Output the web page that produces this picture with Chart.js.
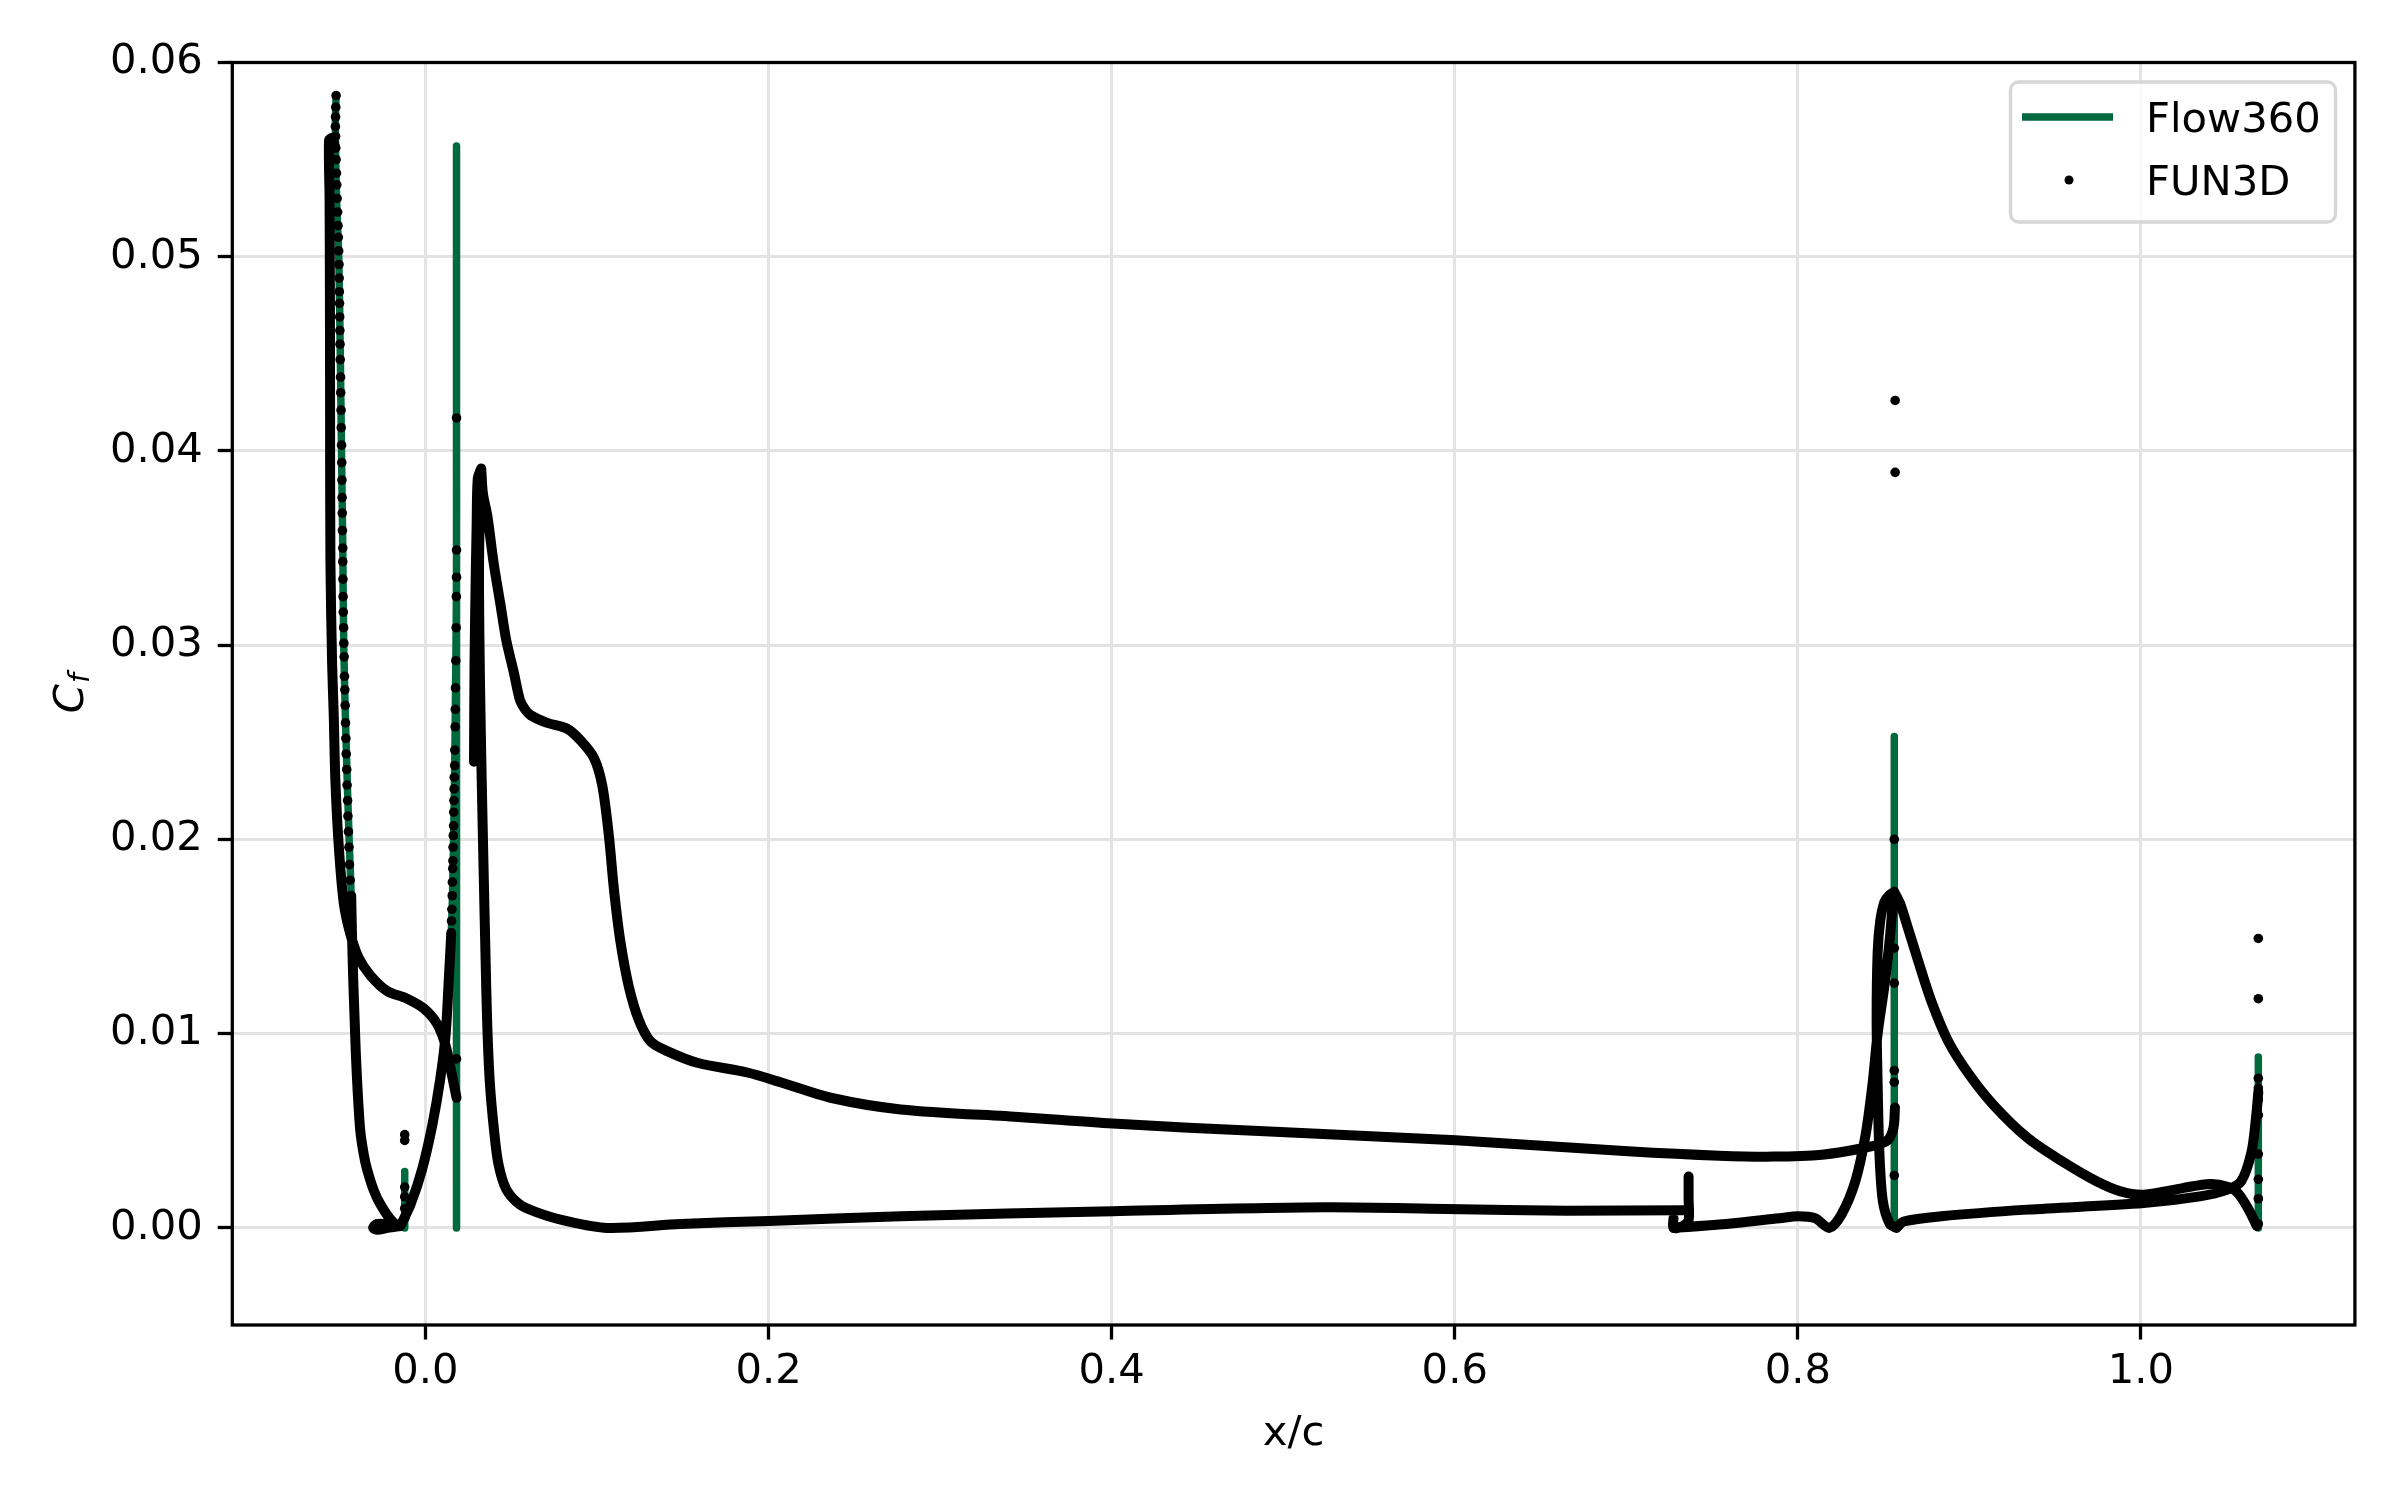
<!DOCTYPE html>
<html><head><meta charset="utf-8">
<script src="https://cdn.jsdelivr.net/npm/chart.js@4.4.1/dist/chart.umd.min.js"></script>
<style>html,body{margin:0;padding:0;background:#fff;}canvas{display:block;}</style>
</head><body>
<canvas id="c" width="2400" height="1500" style="width:2400px;height:1500px"></canvas>
<script>
// ---------- tick labels ----------
const xTickValues = [0.0, 0.2, 0.4, 0.6, 0.8, 1.0];
const yTickValues = [0.00, 0.01, 0.02, 0.03, 0.04, 0.05, 0.06];

// ---------- surface curves [x/c, Cf] (shared by both solvers) ----------
const slatUpper = [[-0.0526,0.0556],[-0.0545,0.0561],[-0.0562,0.0560],[-0.0559,0.0530],[-0.0557,0.0480],[-0.0556,0.0420],
  [-0.0554,0.0343],[-0.0544,0.0290],[-0.0535,0.0265],[-0.0525,0.0230],[-0.0505,0.0196],[-0.0476,0.0167],[-0.0437,0.0151],
  [-0.0389,0.0139],[-0.0321,0.0130],[-0.0224,0.0122],[-0.0107,0.0118],[-0.0010,0.0113],[0.0068,0.0105],[0.0117,0.0094],
  [0.0156,0.0078],[0.0181,0.0067]];
const slatLower = [[-0.0521,0.0583],[-0.0525,0.0567],[-0.0518,0.0530],[-0.0505,0.0498],[-0.0496,0.0446],[-0.0490,0.0404],
  [-0.0482,0.0350],[-0.0476,0.0298],[-0.0461,0.0245],[-0.0445,0.0200],[-0.0433,0.0171],[-0.0428,0.0150],[-0.0420,0.0125],
  [-0.0412,0.0105],[-0.0406,0.0090],[-0.0395,0.0070],[-0.0380,0.0050],[-0.0360,0.0038],[-0.0340,0.0030],[-0.0300,0.0019],
  [-0.0262,0.0012],[-0.0210,0.0005],[-0.0165,0.0001]];
const slatCusp = [[-0.0165,0.0001],[-0.0230,0.0002],[-0.0285,0.0002],[-0.0305,0.0000],[-0.0280,-0.0001],[-0.0220,0.0000],[-0.0146,0.0001]];
const slatCove = [[-0.0146,0.0001],[-0.0087,0.0012],[-0.0020,0.0030],[0.0040,0.0053],[0.0085,0.0076],[0.0117,0.0099],
  [0.0136,0.0128],[0.0150,0.0151],[0.0158,0.0173],[0.0165,0.0207],[0.0171,0.0241],[0.0175,0.0275],[0.0179,0.0309],
  [0.0181,0.0343],[0.0181,0.0417]];
const mainNose = [[0.0325,0.0391],[0.0305,0.0386],[0.0298,0.0360],[0.0292,0.0330],[0.0286,0.0290],[0.0283,0.0240]];
const mainUpper = [[0.0325,0.0391],[0.0335,0.0378],[0.0360,0.0367],[0.0398,0.0342],[0.0437,0.0321],[0.0470,0.0303],
  [0.0515,0.0286],[0.0550,0.0272],[0.0580,0.0267],[0.0612,0.0264],[0.0710,0.0260],[0.0826,0.0257],[0.0904,0.0251],
  [0.0982,0.0242],[0.1030,0.0228],[0.1069,0.0202],[0.1099,0.0174],[0.1137,0.0147],[0.1186,0.0124],[0.1244,0.0107],
  [0.1312,0.0096],[0.1409,0.0091],[0.1584,0.0085],[0.1876,0.0080],[0.2070,0.0075],[0.2362,0.0067],[0.2770,0.0061],
  [0.3477,0.0057],[0.4006,0.00537],[0.4890,0.00497],[0.6006,0.00451],[0.7010,0.00395],[0.7541,0.00372],[0.7858,0.00367],
  [0.8141,0.00377],[0.8375,0.0041],[0.8516,0.00446],[0.8556,0.0051],[0.8566,0.0062]];
const mainLower = [[0.0325,0.0391],[0.0315,0.0360],[0.0312,0.0330],[0.0318,0.0280],[0.0328,0.0230],[0.0340,0.0180],
  [0.0350,0.0140],[0.0360,0.0105],[0.0375,0.0075],[0.0400,0.0050],[0.0425,0.0033],[0.0470,0.0020],[0.0550,0.0012],
  [0.0650,0.0008],[0.0800,0.0004],[0.1059,0.0000],[0.1487,0.0002],[0.2002,0.00036],[0.2770,0.0006],[0.4006,0.00086],
  [0.5243,0.00106],[0.5950,0.00097],[0.6657,0.00088],[0.7328,0.00091],[0.7363,0.0009]];
const mainCove = [[0.7363,0.00265],[0.7363,0.0015],[0.7363,0.0004],[0.7330,0.0001],[0.7275,0.0000],[0.7275,0.0005]];
const flapRise = [[0.7275,0.0000],[0.7541,0.00017],[0.7894,0.0005],[0.8000,0.0006],[0.8100,0.0005],[0.8184,0.0000],
  [0.8255,0.0007],[0.8335,0.0024],[0.8395,0.0048],[0.8435,0.0074],[0.8465,0.0100],[0.8505,0.0125],[0.8536,0.0149],
  [0.8556,0.0170],[0.8562,0.0173]];
const flapNose = [[0.8562,0.0173],[0.8530,0.0171],[0.8505,0.0168],[0.8480,0.0158],[0.8465,0.0142],[0.8459,0.0108],
  [0.8465,0.0074],[0.8475,0.0039],[0.8495,0.0014],[0.8536,0.0002],[0.8575,0.0000]];
const flapLower = [[0.8575,0.0000],[0.8617,0.00033],[0.8837,0.0006],[0.9339,0.00094],[1.0016,0.00128],[1.0343,0.00162],
  [1.0504,0.00197],[1.0584,0.0024],[1.0644,0.0039],[1.0672,0.0058],[1.0684,0.0070]];
const flapUpper = [[0.8562,0.0173],[0.8596,0.0167],[0.8636,0.0156],[0.8696,0.0139],[0.8777,0.0117],[0.8877,0.0096],
  [0.8998,0.0079],[0.9138,0.00635],[0.9339,0.00463],[0.9540,0.00343],[0.9741,0.0024],[0.9881,0.00188],[1.0016,0.00171],
  [1.0243,0.00205],[1.0403,0.00226],[1.0504,0.00212],[1.0564,0.0018],[1.0624,0.0010],[1.0675,0.0001]];

// ---------- Flow360-only trailing-edge segments ----------
const flowSlatTE = [[0.0181,0.0000],[0.0181,0.0557]];
const flowSlatCusp = [[-0.0121,0.0000],[-0.0121,0.0029]];
const flowMainTE = [[0.8562,0.0000],[0.8562,0.0253]];
const flowFlapTE = [[1.0684,0.0000],[1.0684,0.0088]];

// ---------- FUN3D individually visible points ----------
const funSlatNoseDots = [[-0.0521,0.0583],[-0.0523,0.0577],[-0.0524,0.0572],[-0.0525,0.0567],[-0.0524,0.0562],[-0.0523,0.0556],
  [-0.0521,0.0550],[-0.0519,0.0543],[-0.0517,0.0537],[-0.0515,0.0530],[-0.0512,0.0523],[-0.0510,0.0516],[-0.0508,0.0510],
  [-0.0506,0.0503],[-0.0504,0.0496],[-0.0503,0.0489],[-0.0502,0.0482],[-0.0501,0.0476],[-0.0500,0.0469],[-0.0499,0.0462],
  [-0.0498,0.0455],[-0.0497,0.0447],[-0.0495,0.0438],[-0.0494,0.0430],[-0.0492,0.0421],[-0.0491,0.0412],[-0.0489,0.0403],
  [-0.0488,0.0394],[-0.0487,0.0385],[-0.0486,0.0376],[-0.0485,0.0368],[-0.0484,0.0359],[-0.0482,0.0350],[-0.0482,0.0343],
  [-0.0481,0.0334],[-0.0480,0.0325],[-0.0479,0.0317],[-0.0477,0.0309],[-0.0476,0.0301],[-0.0474,0.0294],[-0.0472,0.0284],
  [-0.0470,0.0277],[-0.0468,0.0269],[-0.0466,0.0260],[-0.0464,0.0252],[-0.0462,0.0244],[-0.0459,0.0236],[-0.0457,0.0228],
  [-0.0454,0.0220],[-0.0452,0.0212],[-0.0449,0.0204],[-0.0446,0.0196],[-0.0443,0.0187],[-0.0439,0.0179],[-0.0434,0.0171]];
const funSlatCoveDots = [[0.0150,0.0152],[0.0152,0.0158],[0.0154,0.0164],[0.0156,0.0171],[0.0157,0.0178],[0.0159,0.0185],
  [0.0160,0.0189],[0.0161,0.0196],[0.0162,0.0202],[0.0164,0.0207],[0.0165,0.0214],[0.0166,0.0220],[0.0167,0.0226],
  [0.0168,0.0232],[0.0170,0.0238],[0.0171,0.0246],[0.0173,0.0258],[0.0174,0.0267],[0.0175,0.0278],[0.0177,0.0292],
  [0.0179,0.0309],[0.0180,0.0325],[0.0181,0.0335],[0.0181,0.0349],[0.0181,0.0417],[0.0181,0.0087]];
const funCuspDots = [[-0.0121,0.0048],[-0.0121,0.0045],[-0.0121,0.0021],[-0.0121,0.0016],[-0.0121,0.0010],[-0.0121,0.0005]];
const funMainTEDots = [[0.8567,0.0426],[0.8567,0.0389],[0.8562,0.0200],[0.8562,0.0144],[0.8562,0.0126],[0.8562,0.0081],
  [0.8562,0.0075],[0.8562,0.0027]];
const funFlapTEDots = [[1.0684,0.0149],[1.0684,0.0118],[1.0684,0.0077],[1.0684,0.0072],[1.0684,0.0066],[1.0684,0.0058],
  [1.0684,0.0038],[1.0684,0.0025],[1.0684,0.0015],[1.0684,0.0002]];

// ---------- assemble ----------
function join(curves){
  const out = [];
  curves.forEach((c, i) => {
    if (i) out.push({x: c[0][0], y: null});
    c.forEach(p => out.push({x: p[0], y: p[1]}));
  });
  return out;
}
const sharedCurves = [slatUpper, slatLower, slatCusp, slatCove, mainNose, mainUpper, mainLower, mainCove,
  flapRise, flapNose, flapLower, flapUpper];
const flowData = join(sharedCurves.concat([flowSlatTE, flowSlatCusp, flowMainTE, flowFlapTE]));
const funLineData = join([slatUpper, slatLower.filter(p => p[1] <= 0.0172), slatCusp,
  slatCove.filter(p => p[1] <= 0.0152), mainNose, mainUpper, mainLower, mainCove, flapRise, flapNose, flapLower, flapUpper]);
const funDotData = join([funSlatNoseDots, funSlatCoveDots, funCuspDots, funMainTEDots, funFlapTEDots]);

const GREEN = '#00693E';
const FONT = '"DejaVu Sans"';
const FS = 41.7;

const deco = {
  id: 'deco',
  afterDraw(chart) {
    const ctx = chart.ctx, a = chart.chartArea;
    ctx.save();
    ctx.strokeStyle = '#000'; ctx.lineWidth = 3.3;
    ctx.strokeRect(a.left, a.top, a.right - a.left, a.bottom - a.top);
    ctx.fillStyle = '#000';
    ctx.font = FS + 'px ' + FONT;
    ctx.textAlign = 'center'; ctx.textBaseline = 'alphabetic';
    ctx.fillText('x/c', (a.left + a.right) / 2, 1445);
    ctx.save();
    ctx.translate(83.3, (a.top + a.bottom) / 2);
    ctx.rotate(-Math.PI / 2);
    ctx.font = 'italic ' + FS + 'px ' + FONT;
    const wC = ctx.measureText('C').width;
    ctx.font = 'italic 28px ' + FONT;
    const wf = ctx.measureText('f').width;
    const s = -(wC + wf) / 2;
    ctx.textAlign = 'left';
    ctx.font = 'italic ' + FS + 'px ' + FONT;
    ctx.fillText('C', s, 0);
    ctx.font = 'italic 28px ' + FONT;
    ctx.fillText('f', s + wC + 1, 6);
    ctx.restore();
    const lx = 2010.5, ly = 82, lw = 325, lh = 140, r = 8;
    ctx.beginPath();
    ctx.moveTo(lx + r, ly); ctx.lineTo(lx + lw - r, ly); ctx.arcTo(lx + lw, ly, lx + lw, ly + r, r);
    ctx.lineTo(lx + lw, ly + lh - r); ctx.arcTo(lx + lw, ly + lh, lx + lw - r, ly + lh, r);
    ctx.lineTo(lx + r, ly + lh); ctx.arcTo(lx, ly + lh, lx, ly + lh - r, r);
    ctx.lineTo(lx, ly + r); ctx.arcTo(lx, ly, lx + r, ly, r); ctx.closePath();
    ctx.fillStyle = 'rgba(255,255,255,0.8)'; ctx.fill();
    ctx.strokeStyle = '#d6d6d6'; ctx.lineWidth = 3.3; ctx.stroke();
    ctx.strokeStyle = GREEN; ctx.lineWidth = 7.5; ctx.lineCap = 'butt';
    ctx.beginPath(); ctx.moveTo(2022, 117); ctx.lineTo(2113, 117); ctx.stroke();
    ctx.fillStyle = '#000';
    ctx.beginPath(); ctx.arc(2069, 180, 4.5, 0, Math.PI * 2); ctx.fill();
    ctx.font = FS + 'px ' + FONT; ctx.textAlign = 'left'; ctx.textBaseline = 'alphabetic';
    ctx.fillText('Flow360', 2146, 131.7);
    ctx.fillText('FUN3D', 2146, 195);
    ctx.restore();
  }
};

const gridOpts = {color: '#e3e3e3', lineWidth: 3, drawTicks: true, tickLength: 14.6, tickColor: '#000', tickWidth: 3.3};

new Chart(document.getElementById('c'), {
  type: 'scatter',
  data: {
    datasets: [
      {label: 'FUN3D', data: funDotData, showLine: false, pointRadius: 4.8, pointBackgroundColor: '#000',
       pointBorderWidth: 0, pointHoverRadius: 0, order: 1},
      {label: 'FUN3D', data: funLineData, showLine: true, borderColor: '#000', borderWidth: 10, pointRadius: 0,
       pointHoverRadius: 0, spanGaps: false, borderJoinStyle: 'round', borderCapStyle: 'round', tension: 0.3, order: 2},
      {label: 'Flow360', data: flowData, showLine: true, borderColor: GREEN, borderWidth: 7.5, pointRadius: 0,
       pointHoverRadius: 0, spanGaps: false, borderJoinStyle: 'round', borderCapStyle: 'round', tension: 0.3, order: 3}
    ]
  },
  options: {
    responsive: false, devicePixelRatio: 1, animation: false, events: [],
    layout: {padding: {left: 0, top: 62.5, right: 45.1, bottom: 0}},
    plugins: {legend: {display: false}, tooltip: {enabled: false}},
    scales: {
      x: {
        type: 'linear', min: -0.1126, max: 1.1247,
        afterBuildTicks: sc => { sc.ticks = xTickValues.map(v => ({value: v})); },
        afterFit: sc => { sc.height = 175; },
        grid: gridOpts, border: {display: false},
        ticks: {font: {family: 'DejaVu Sans', size: FS}, color: '#000', padding: 8, maxRotation: 0, autoSkip: false,
                callback: v => Number(v).toFixed(1)}
      },
      y: {
        type: 'linear', min: -0.005, max: 0.06,
        afterBuildTicks: sc => { sc.ticks = yTickValues.map(v => ({value: v})); },
        afterFit: sc => { sc.width = 232.3; },
        grid: gridOpts, border: {display: false},
        ticks: {font: {family: 'DejaVu Sans', size: FS}, color: '#000', padding: 15, autoSkip: false,
                callback: v => Number(v).toFixed(2)}
      }
    }
  },
  plugins: [deco]
});
</script>
</body></html>
